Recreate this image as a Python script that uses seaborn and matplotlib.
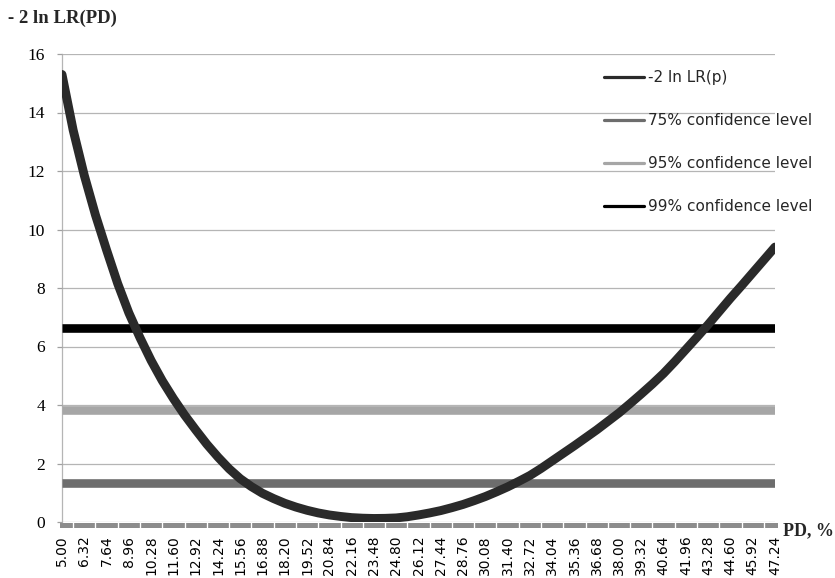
import numpy as np
import pandas as pd
import matplotlib
matplotlib.use("Agg")
import matplotlib.pyplot as plt
from matplotlib.lines import Line2D
import seaborn as sns

# ---- data ----
pd_values = [5.00, 5.66, 6.32, 6.98, 7.64, 8.30, 8.96, 9.62, 10.28, 10.94,
             11.60, 12.26, 12.92, 13.58, 14.24, 14.90, 15.56, 16.22, 16.88, 17.54,
             18.20, 18.86, 19.52, 20.18, 20.84, 21.50, 22.16, 22.82, 23.48, 24.14,
             24.80, 25.46, 26.12, 26.78, 27.44, 28.10, 28.76, 29.42, 30.08, 30.74,
             31.40, 32.06, 32.72, 33.38, 34.04, 34.70, 35.36, 36.02, 36.68, 37.34,
             38.00, 38.66, 39.32, 39.98, 40.64, 41.30, 41.96, 42.62, 43.28, 43.94,
             44.60, 45.26, 45.92, 46.58, 47.24]
lr_values = [15.3, 13.4, 11.85, 10.5, 9.3, 8.15, 7.15, 6.3, 5.52, 4.83,
             4.22, 3.66, 3.15, 2.66, 2.22, 1.82, 1.48, 1.21, 0.98, 0.8,
             0.64, 0.51, 0.4, 0.31, 0.24, 0.19, 0.15, 0.13, 0.12, 0.125,
             0.14, 0.18, 0.24, 0.31, 0.39, 0.49, 0.6, 0.73, 0.87, 1.03,
             1.2, 1.39, 1.59, 1.83, 2.09, 2.35, 2.61, 2.88, 3.15, 3.44,
             3.73, 4.05, 4.38, 4.72, 5.08, 5.48, 5.9, 6.32, 6.75, 7.2,
             7.65, 8.08, 8.52, 8.96, 9.4]
x_tick_labels = ["5.00", "6.32", "7.64", "8.96", "10.28", "11.60", "12.92", "14.24",
                 "15.56", "16.88", "18.20", "19.52", "20.84", "22.16", "23.48", "24.80",
                 "26.12", "27.44", "28.76", "30.08", "31.40", "32.72", "34.04", "35.36",
                 "36.68", "38.00", "39.32", "40.64", "41.96", "43.28", "44.60", "45.92",
                 "47.24"]
conf_names = ["75% confidence level", "95% confidence level", "99% confidence level"]
conf_values = [1.32, 3.84, 6.63]
conf_colors = ["#6d6d6d", "#a6a6a6", "#000000"]
curve_name = "-2 ln LR(p)"
curve_color = "#2a2a2a"
y_ticks = [0, 2, 4, 6, 8, 10, 12, 14, 16]

df = pd.DataFrame({"PD": pd_values, "LR": lr_values})

sns.set_style("white")
plt.rcParams["font.family"] = ["DejaVu Sans"]

fig = plt.figure(figsize=(8.35, 5.78), dpi=100)
ax = fig.add_axes([62 / 835, 56 / 578, 713 / 835, 468 / 578])

# spines first (set_position resets ticks)
for s in ["top", "right"]:
    ax.spines[s].set_visible(False)
ax.spines["bottom"].set_position(("outward", 1.8))
ax.spines["bottom"].set_color("#8c8c8c")
ax.spines["bottom"].set_linewidth(3.6)
ax.spines["bottom"].set_zorder(0.2)
ax.spines["left"].set_color("#b5b5b5")
ax.spines["left"].set_linewidth(0.9)
ax.spines["left"].set_zorder(0.2)

# confidence levels
for val, col in zip(conf_values, conf_colors):
    ax.axhline(val, color=col, linewidth=6.2, solid_capstyle="butt", zorder=3)

# curve
sns.lineplot(data=df, x="PD", y="LR", ax=ax, color=curve_color, linewidth=6.4,
             solid_capstyle="round", solid_joinstyle="round", zorder=4, legend=False)

ax.set_xlim(pd_values[0], pd_values[-1])
ax.set_ylim(0, 16)
ax.set_xlabel("")
ax.set_ylabel("")

# y axis
ax.set_yticks(y_ticks)
ax.set_yticklabels([str(t) for t in y_ticks], family="Liberation Serif", fontsize=12.5)
ax.yaxis.grid(True, color="#b5b5b5", linewidth=0.9)
ax.set_axisbelow(True)
ax.tick_params(axis="y", direction="out", length=3.6, width=0.9, color="#a0a0a0",
               pad=8.5, labelcolor="black", left=True)

# x axis: labels every 4th category step, gray band with white tick gaps
label_pos = pd_values[::2]
ax.set_xticks(label_pos)
ax.set_xticklabels(x_tick_labels, rotation=90, fontsize=10)
ax.set_xticks(pd_values, minor=True)
ax.tick_params(axis="x", which="major", length=0, pad=8, labelcolor="black", bottom=True)
ax.tick_params(axis="x", which="minor", direction="inout", length=5.5, width=0.95,
               color="white", bottom=True)

# legend
handles = [Line2D([0], [0], color=curve_color, lw=2.3)] + \
          [Line2D([0], [0], color=c, lw=2.3) for c in conf_colors]
labels = [curve_name] + conf_names
fig.legend(handles, labels, loc="upper left", bbox_to_anchor=(604 / 835, 1 - 70 / 578),
           frameon=False, fontsize=11, handlelength=2.6, handletextpad=0.25,
           labelspacing=1.84, borderpad=0, borderaxespad=0)

# axis titles
fig.text(8 / 835, 1 - 18 / 578, "- 2 ln LR(PD)", family="Liberation Serif",
         fontweight="bold", fontsize=13.5, ha="left", va="center")
fig.text(783 / 835, 1 - 531 / 578, "PD, %", family="Liberation Serif",
         fontweight="bold", fontsize=13, ha="left", va="center")

fig.savefig("out.png", dpi=100)
